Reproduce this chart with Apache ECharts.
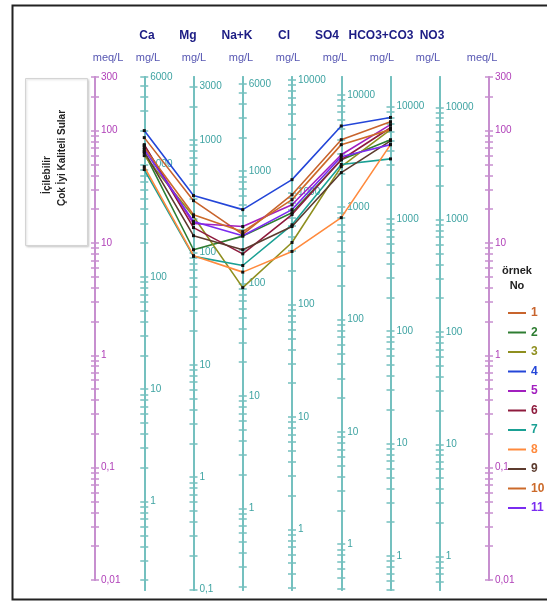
<!DOCTYPE html>
<html>
<head>
<meta charset="utf-8">
<script src="https://cdn.jsdelivr.net/npm/echarts@6/dist/echarts.min.js"></script>
<style>
  html, body { margin: 0; padding: 0; background: #fff; }
  #chart { width: 547px; height: 601px; }
</style>
</head>
<body>
<div id="chart"></div>
<script>
// columns of the diagram (left meq/L, ions, right meq/L)
const columns = ["meqL", "Ca", "Mg", "Na+K", "Cl", "SO4", "HCO3+CO3", "NO3", "meqR"];
const ionNames = ["Ca", "Mg", "Na+K", "Cl", "SO4", "HCO3+CO3", "NO3"];
const units = ["meq/L", "mg/L", "mg/L", "mg/L", "mg/L", "mg/L", "mg/L", "mg/L", "meq/L"];
// mg/L per meq/L for each column
const eqWeights = [1, 20.04, 12.15, 23, 35.45, 48.03, 61.02, 62, 1];
// highest labelled tick of each column
const topLabels = [300, 6000, 3000, 6000, 10000, 10000, 10000, 10000, 300];

// samples, meq/L at Ca, Mg, Na+K, Cl, SO4, HCO3+CO3
const sampleNames = ["1", "2", "3", "4", "5", "6", "7", "8", "9", "10", "11"];
const s1 = [86.6, 23.8, 11.9, 26.9, 83, 120];
const s2 = [63.6, 8.7, 11.5, 18.6, 55, 83];
const s3 = [59.9, 17.2, 4.0, 10.1, 47.8, 102];
const s4 = [100, 26.4, 19.8, 36.6, 110, 131];
const s5 = [73.6, 14.9, 14.0, 21.9, 61, 113];
const s6 = [75, 13.7, 8.0, 17.9, 55, 106];
const s7 = [45, 7.6, 6.3, 14.5, 50, 56];
const s8 = [47.8, 7.7, 5.5, 8.4, 16.8, 75];
const s9 = [65, 11.6, 8.7, 14.0, 42.3, 81];
const s10 = [70.5, 17.8, 12.6, 24.3, 75, 102];
const s11 = [67.7, 15.5, 11.6, 19.8, 58.6, 75];
const samples = [s1, s2, s3, s4, s5, s6, s7, s8, s9, s10, s11];
const colors = ["#c8642d", "#2e7d32", "#8f8f1f", "#2446d8", "#a21fbf", "#8e1b3d",
  "#1aa094", "#ff8a3d", "#5c3b2e", "#cc6a2a", "#7a2cf0"];

const FONT = "Liberation Sans, Arial, sans-serif";
const MEQ_MIN = 0.01, MEQ_MAX = 300;
const EXT = Math.pow(10, -10 / 112.3); // ion axes run ~10px below 0.01 meq/L

function tickValues(lo, hi) {
  const out = [];
  for (let k = -4; k <= 5; k++) {
    for (let d = 1; d <= 9; d++) {
      const v = Number((d * Math.pow(10, k)).toPrecision(6));
      if (v >= lo && v <= hi) out.push(v);
    }
  }
  return out;
}
function labelValues(lo, hi, top) {
  const out = [];
  for (let k = -4; k <= 5; k++) {
    const v = Number(Math.pow(10, k).toPrecision(6));
    if (v >= lo && v <= hi) out.push(v);
  }
  if (out.indexOf(top) < 0) out.push(top);
  return out;
}
function fmt(v) {
  return v >= 1 ? String(Math.round(v)) : String(Number(v.toPrecision(3))).replace(".", ",");
}

const gridLeft = 95, gridRight = 58;
const step = (547 - gridLeft - gridRight) / (columns.length - 1);

const yAxes = [{
  type: "log", gridIndex: 0, min: MEQ_MIN, max: MEQ_MAX, show: false
}];
columns.forEach((c, i) => {
  const isMeq = eqWeights[i] === 1;
  const w = eqWeights[i];
  const lo = isMeq ? MEQ_MIN : MEQ_MIN * EXT * w;
  const hi = MEQ_MAX * w;
  const lineColor = isMeq ? "#c78fcf" : "#74c0bf";
  const labColor = isMeq ? "#b040b8" : "#3ea3a2";
  const ticks = tickValues(lo, hi);
  const base = {
    type: "log", gridIndex: isMeq ? 0 : 1, min: lo, max: hi,
    position: "left", offset: -step * i,
    splitLine: { show: false },
    axisLine: { show: true, lineStyle: { color: lineColor, width: 2 } }
  };
  yAxes.push(Object.assign({}, base, {
    axisTick: { show: true, inside: false, length: 4, customValues: ticks,
      lineStyle: { color: lineColor, width: 1.5 } },
    axisLabel: { show: false }
  }));
  yAxes.push(Object.assign({}, base, {
    axisTick: { show: true, inside: true, length: 4, customValues: ticks,
      lineStyle: { color: lineColor, width: 1.5 } },
    axisLabel: { show: true, inside: true, margin: 6, customValues: labelValues(lo, hi, topLabels[i]),
      formatter: fmt, color: labColor, fontSize: 10, fontFamily: FONT }
  }));
});

const series = samples.map((vals, i) => ({
  name: sampleNames[i],
  type: "line",
  xAxisIndex: 0,
  yAxisIndex: 0,
  data: ["-"].concat(vals, ["-", "-"]),
  symbol: "rect",
  symbolSize: 3,
  itemStyle: { color: "#111" },
  lineStyle: { color: colors[i], width: 1.6 },
  z: 10
}));

// header texts
const nameX = [147, 188, 237, 284, 327, 381, 432];
const unitX = [108, 148, 194, 241, 288, 335, 382, 428, 482];
const graphic = [
  { type: "rect", left: 10, top: 3, shape: { width: 545, height: 594 },
    style: { fill: "none", stroke: "#222", lineWidth: 2 }, silent: true },
  { type: "rect", left: 25, top: 78, shape: { width: 62, height: 167 },
    style: { fill: "#fff", stroke: "#d4d4d4", lineWidth: 1,
      shadowBlur: 2, shadowColor: "rgba(0,0,0,0.15)", shadowOffsetX: 1, shadowOffsetY: 1 } },
  { type: "text", x: 47, y: 175, rotation: Math.PI / 2,
    style: { text: "İçilebilir", fill: "#222", font: "bold 10px " + FONT, align: "center", verticalAlign: "middle" } },
  { type: "text", x: 62, y: 158, rotation: Math.PI / 2,
    style: { text: "Çok İyi Kaliteli Sular", fill: "#222", font: "bold 10px " + FONT, align: "center", verticalAlign: "middle" } },
  { type: "text", x: 517, y: 271,
    style: { text: "örnek", fill: "#222", font: "bold 11px " + FONT, align: "center", verticalAlign: "middle" } },
  { type: "text", x: 517, y: 286,
    style: { text: "No", fill: "#222", font: "bold 11px " + FONT, align: "center", verticalAlign: "middle" } }
];
ionNames.forEach((n, i) => graphic.push({ type: "text", x: nameX[i], y: 36,
  style: { text: n, fill: "#1c1c84", font: "bold 12px " + FONT, align: "center", verticalAlign: "middle" } }));
units.forEach((u, i) => graphic.push({ type: "text", x: unitX[i], y: 58,
  style: { text: u, fill: "#5656b2", font: "11px " + FONT, align: "center", verticalAlign: "middle" } }));

const option = {
  animation: false,
  backgroundColor: "#fff",
  grid: [
    { left: gridLeft, right: gridRight, top: 77, bottom: 21 },
    { left: gridLeft, right: gridRight, top: 77, bottom: 11 }
  ],
  xAxis: [
    { type: "category", gridIndex: 0, data: columns, boundaryGap: false, show: false },
    { type: "category", gridIndex: 1, data: columns, boundaryGap: false, show: false }
  ],
  yAxis: yAxes,
  legend: {
    orient: "vertical",
    left: 503,
    top: 302,
    icon: "rect",
    itemWidth: 18,
    itemHeight: 2,
    itemGap: 7.5,
    selectedMode: false,
    data: sampleNames.map((n, i) => ({
      name: n,
      itemStyle: { color: colors[i] },
      textStyle: { color: colors[i], fontWeight: "bold", fontSize: 12, fontFamily: FONT }
    }))
  },
  graphic: graphic,
  series: series
};

echarts.init(document.getElementById("chart")).setOption(option);
</script>
</body>
</html>
